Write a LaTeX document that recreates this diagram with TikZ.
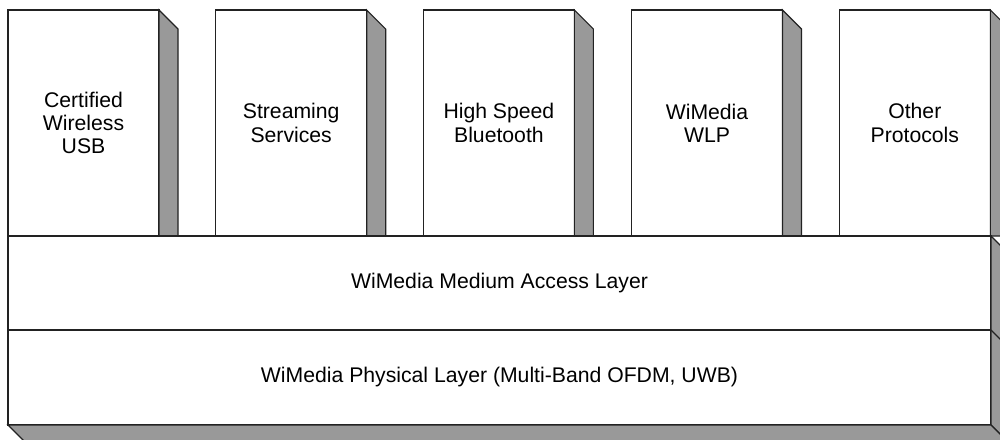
\documentclass[tikz,border=0pt]{standalone}
\usepackage{fontspec}
\setmainfont{Liberation Sans}
\definecolor{sidegray}{HTML}{999999}
\definecolor{edgecol}{HTML}{222222}
\begin{document}
\begin{tikzpicture}[x=1pt,y=-1pt,
  edge/.style={draw=edgecol, line width=1.1pt, line join=miter},
  sideface/.style={edge, fill=sidegray},
  upbox/.style={rectangle, edge, fill=white, minimum width=151pt, minimum height=226pt,
    anchor=north west, align=center, inner sep=0pt, outer sep=0pt,
    font=\fontsize{21.2}{23.2}\selectfont},
  layerbox/.style={rectangle, edge, fill=white, minimum width=983pt,
    anchor=north west, align=center, inner sep=0pt, outer sep=0pt,
    font=\fontsize{21.2}{23.2}\selectfont}]
\useasboundingbox (0,0) rectangle (1000,439);
\clip (0,0) rectangle (1000,439);
% upper protocol boxes
\foreach \nm/\x/\txt in {b1/8/{Certified\\Wireless\\USB},
                         b2/215.7/{Streaming\\Services},
                         b3/423.4/{High Speed\\Bluetooth},
                         b4/631.5/{WiMedia\\WLP},
                         b5/839.3/{Other\\Protocols}}{
  \node[upbox] (\nm) at (\x,10) {\txt};
  \draw[sideface] (\nm.north east) -- ([xshift=19pt,yshift=-19pt]\nm.north east)
    -- ([xshift=19pt]\nm.south east) -- (\nm.south east) -- cycle;
}
% layers
\node[layerbox, minimum height=94pt] (mac) at (8,236) {WiMedia Medium Access Layer};
\node[layerbox, minimum height=95pt] (phy) at (8,330) {WiMedia Physical Layer (Multi-Band OFDM, UWB)};
\draw[sideface] (mac.north east) -- ([xshift=20pt,yshift=-20pt]mac.north east)
  -- ([xshift=20pt,yshift=-20pt]phy.south east) -- (phy.south east) -- cycle;
\draw[sideface] (phy.south west) -- ([xshift=20pt,yshift=-20pt]phy.south west)
  -- ([xshift=20pt,yshift=-20pt]phy.south east) -- (phy.south east) -- cycle;
\draw[edge] (mac.south east) -- ([xshift=20pt,yshift=-20pt]mac.south east);
\end{tikzpicture}
\end{document}
